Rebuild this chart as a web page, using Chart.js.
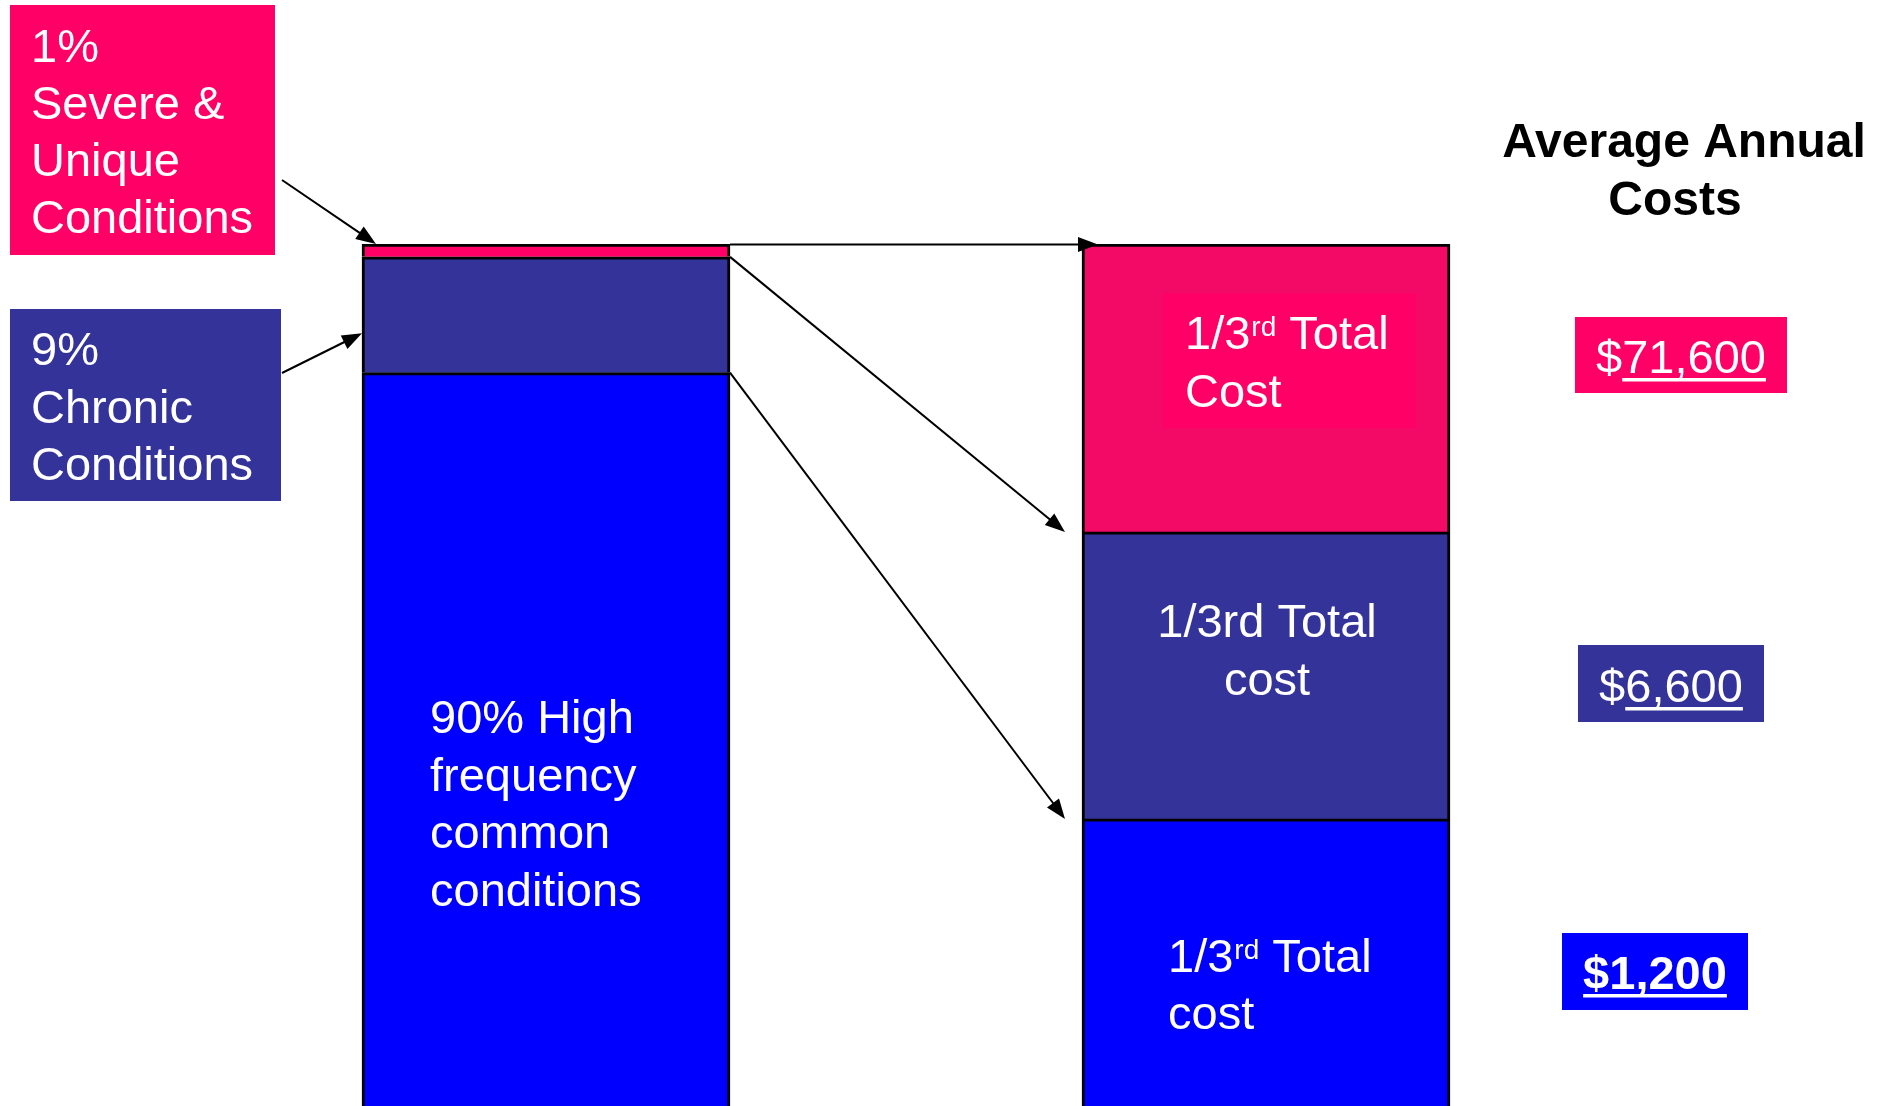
<!DOCTYPE html>
<html>
<head>
<meta charset="utf-8">
<title>Population share vs. share of total cost</title>
<script src="https://cdn.jsdelivr.net/npm/chart.js@4.4.1/dist/chart.umd.min.js"></script>
<style>
  html, body { margin: 0; padding: 0; background: #ffffff; overflow: hidden; }
  canvas { display: block; }
</style>
</head>
<body>
<canvas id="chart" width="1885" height="1106"></canvas>
<script>
// ---- data -------------------------------------------------------------
const categories = ['Share of people', 'Share of total cost'];
// order: bottom segment first
const conditionGroups = ['High frequency common conditions', 'Chronic conditions', 'Severe & unique conditions'];
const populationShare = [90, 9, 1];          // % of people
const costShare = [33.3, 33.3, 33.4];        // % of total cost (one third each)
const averageAnnualCost = [1200, 6600, 71600];

// ---- styles -----------------------------------------------------------
const populationColors = ['#0000FF', '#333399', '#FF0066'];
const costColors = ['#0000FF', '#333399', '#F20A66'];
const FONT = '"Liberation Sans", Arial, Helvetica, sans-serif';

const datasets = [];
populationShare.forEach((v, i) => datasets.push({
  label: conditionGroups[i],
  data: [v, null],
  yAxisID: 'yPeople',
  backgroundColor: populationColors[i],
  borderColor: '#000000',
  borderWidth: 3,
  borderSkipped: 'start',
  barThickness: 368
}));
costShare.forEach((v, i) => datasets.push({
  label: conditionGroups[i],
  data: [null, v],
  yAxisID: 'yCost',
  backgroundColor: costColors[i],
  borderColor: '#000000',
  borderWidth: 3,
  borderSkipped: 'start',
  barThickness: 368
}));

// ---- drawing helpers --------------------------------------------------
function arrow(ctx, x1, y1, x2, y2) {
  const a = Math.atan2(y2 - y1, x2 - x1);
  const len = 20, hw = 7.5;
  ctx.save();
  ctx.strokeStyle = '#000';
  ctx.fillStyle = '#000';
  ctx.lineWidth = 2;
  ctx.beginPath();
  ctx.moveTo(x1, y1);
  ctx.lineTo(x2 - Math.cos(a) * len * 0.7, y2 - Math.sin(a) * len * 0.7);
  ctx.stroke();
  ctx.beginPath();
  ctx.moveTo(x2, y2);
  ctx.lineTo(x2 - len * Math.cos(a) + hw * Math.sin(a), y2 - len * Math.sin(a) - hw * Math.cos(a));
  ctx.lineTo(x2 - len * Math.cos(a) - hw * Math.sin(a), y2 - len * Math.sin(a) + hw * Math.cos(a));
  ctx.closePath();
  ctx.fill();
  ctx.restore();
}

function lines(ctx, list, x, y0, step, align) {
  ctx.textAlign = align || 'left';
  list.forEach((t, i) => ctx.fillText(t, x, y0 + i * step));
}

// "1/3rd Total" with a raised "rd"
function thirdLine(ctx, x, y) {
  ctx.textAlign = 'left';
  ctx.font = '47px ' + FONT;
  ctx.fillText('1/3', x, y);
  let w = ctx.measureText('1/3').width;
  ctx.font = '28px ' + FONT;
  ctx.fillText('rd', x + w + 1, y - 13);
  w += ctx.measureText('rd').width + 1;
  ctx.font = '47px ' + FONT;
  ctx.fillText(' Total', x + w, y);
}

function money(v) {
  return v.toLocaleString('en-US');
}

// value box: "$" + amount, amount underlined (whole label when bold)
function costBox(ctx, value, box, color, cx, baseline, bold) {
  ctx.fillStyle = color;
  ctx.fillRect(box[0], box[1], box[2], box[3]);
  ctx.fillStyle = '#fff';
  ctx.font = (bold ? 'bold ' : '') + '47px ' + FONT;
  ctx.textAlign = 'left';
  const num = money(value);
  const wd = ctx.measureText('$').width;
  const wn = ctx.measureText(num).width;
  const x0 = cx - (wd + wn) / 2;
  ctx.fillText('$', x0, baseline);
  ctx.fillText(num, x0 + wd, baseline);
  const ux = bold ? x0 : x0 + wd;
  ctx.fillRect(ux, baseline + 5, (bold ? wd : 0) + wn, 3.5);
}

// ---- annotations drawn on top of the bars ------------------------------
const annotations = {
  id: 'annotations',
  afterDatasetsDraw(chart) {
    const ctx = chart.ctx;
    const el = (d, i) => chart.getDatasetMeta(d).data[i];
    const pBlue = el(0, 0), pNavy = el(1, 0), pPink = el(2, 0);
    const cBlue = el(3, 1), cNavy = el(4, 1), cPink = el(5, 1);
    const L = pPink.x - pPink.width / 2, R = pPink.x + pPink.width / 2;
    const rL = cPink.x - cPink.width / 2;

    ctx.save();
    ctx.textBaseline = 'alphabetic';

    // lighter text panel in the top cost segment
    ctx.fillStyle = '#FF0066';
    ctx.fillRect(rL + 80, cPink.y + 49, 254, 135);

    // text inside the bars
    ctx.fillStyle = '#fff';
    ctx.font = '47px ' + FONT;
    lines(ctx, [populationShare[0] + '% High', 'frequency', 'common', 'conditions'], L + 68, 733, 57.5);

    thirdLine(ctx, rL + 103, cPink.y + 105);
    ctx.font = '47px ' + FONT;
    lines(ctx, ['Cost'], rL + 103, cPink.y + 163, 58);

    ctx.font = '47px ' + FONT;
    lines(ctx, ['1/3rd Total', 'cost'], cNavy.x + 1, cNavy.y + 105, 58, 'center');

    thirdLine(ctx, rL + 86, cBlue.y + 153);
    ctx.font = '47px ' + FONT;
    lines(ctx, ['cost'], rL + 86, cBlue.y + 210, 58);

    // group labels on the left
    ctx.fillStyle = populationColors[2];
    ctx.fillRect(10, 5, 265, 250);
    ctx.fillStyle = populationColors[1];
    ctx.fillRect(10, 309, 271, 192);
    ctx.fillStyle = '#fff';
    ctx.font = '47px ' + FONT;
    lines(ctx, [populationShare[2] + '%', 'Severe &', 'Unique', 'Conditions'], 31, 62, 57);
    lines(ctx, [populationShare[1] + '%', 'Chronic', 'Conditions'], 31, 365, 57.5);

    // heading for the cost column
    ctx.fillStyle = '#000';
    ctx.font = 'bold 48px ' + FONT;
    ctx.textAlign = 'center';
    ctx.fillText('Average Annual', 1684, 157);
    ctx.fillText('Costs', 1675, 215);

    // average annual cost per group
    costBox(ctx, averageAnnualCost[2], [1575, 317, 212, 76], populationColors[2], 1681, 373, false);
    costBox(ctx, averageAnnualCost[1], [1578, 645, 186, 77], populationColors[1], 1671, 702, false);
    costBox(ctx, averageAnnualCost[0], [1562, 933, 186, 77], populationColors[0], 1655, 989, true);

    // connectors
    const navyTop = pNavy.y, navyBottom = pNavy.base;
    arrow(ctx, 282, 180, L + 14, pPink.y);
    arrow(ctx, 282, 373, L, navyTop + 0.66 * (navyBottom - navyTop));
    arrow(ctx, R, pPink.y + 0.5, rL + 16, cPink.y + 0.5);
    arrow(ctx, R, pPink.base, rL - 17, cPink.base);
    arrow(ctx, R, pNavy.base, rL - 17, cNavy.base);

    ctx.restore();
  }
};

new Chart(document.getElementById('chart'), {
  type: 'bar',
  data: { labels: categories, datasets },
  options: {
    responsive: false,
    animation: false,
    devicePixelRatio: 1,
    layout: { padding: { left: 186, right: 259, top: 244, bottom: 0 } },
    plugins: { legend: { display: false }, tooltip: { enabled: false } },
    scales: {
      x: { type: 'category', stacked: true, display: false, offset: true },
      yPeople: { type: 'linear', stacked: true, min: 33, max: 100, display: false },
      yCost: { type: 'linear', stacked: true, min: 0, max: 100, display: false }
    }
  },
  plugins: [annotations]
});
</script>
</body>
</html>
